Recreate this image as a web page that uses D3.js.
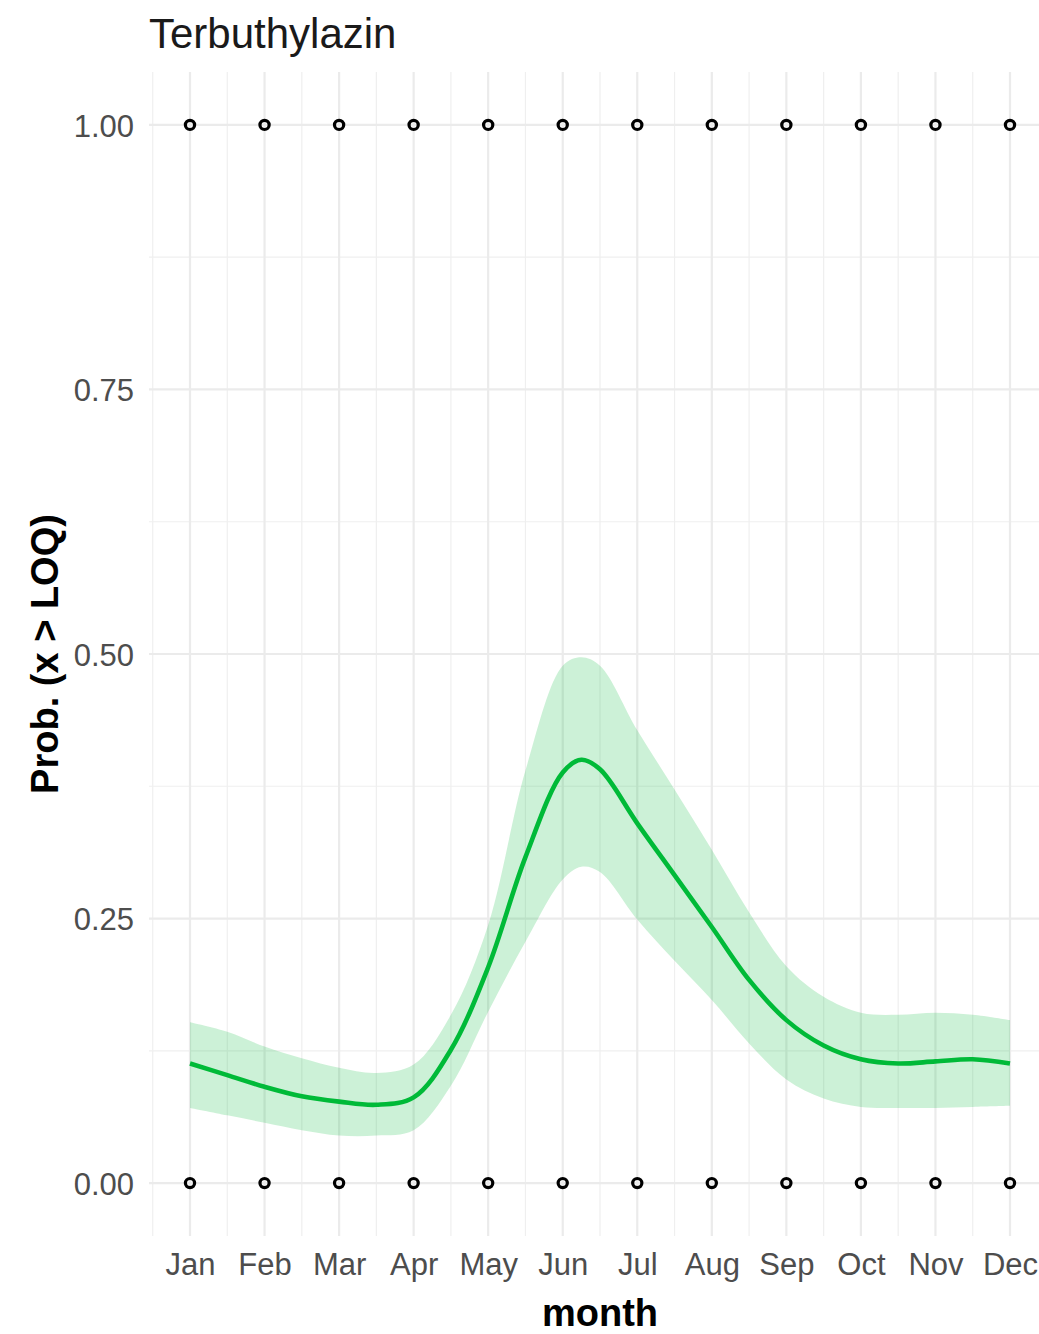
<!DOCTYPE html>
<html>
<head>
<meta charset="utf-8">
<script src="https://cdn.jsdelivr.net/npm/d3@7"></script>
<style>
  html, body { margin: 0; padding: 0; background: #ffffff; }
  svg { display: block; font-family: "Liberation Sans", Arial, Helvetica, sans-serif; }
</style>
</head>
<body>
<svg id="chart" width="1039" height="1334"></svg>
<script>
// Month labels and their positions on the numeric month axis
const months = ["Jan", "Feb", "Mar", "Apr", "May", "Jun", "Jul", "Aug", "Sep", "Oct", "Nov", "Dec"];
const monthNum = [1, 2, 3, 4, 5, 6, 7, 8, 9, 10, 11, 12];

// Smoothed probability of detection (x > LOQ) with its confidence band
const smoothX = [1, 1.5, 2, 2.5, 3, 3.5, 4, 4.5, 5, 5.5, 6, 6.25, 6.5, 7, 7.5, 8, 8.5, 9, 9.5, 10, 10.5, 11, 11.5, 12];
const smoothFit = [0.113, 0.102, 0.091, 0.082, 0.077, 0.074, 0.081, 0.126, 0.204, 0.308, 0.388, 0.400, 0.391, 0.340, 0.291, 0.242, 0.192, 0.154, 0.130, 0.117, 0.113, 0.115, 0.117, 0.113];
const smoothLower = [0.071, 0.064, 0.057, 0.050, 0.045, 0.045, 0.050, 0.092, 0.162, 0.228, 0.287, 0.299, 0.294, 0.249, 0.210, 0.173, 0.132, 0.098, 0.080, 0.072, 0.071, 0.071, 0.072, 0.073];
const smoothUpper = [0.152, 0.143, 0.129, 0.118, 0.109, 0.104, 0.112, 0.159, 0.244, 0.390, 0.489, 0.497, 0.489, 0.428, 0.372, 0.315, 0.256, 0.205, 0.176, 0.161, 0.159, 0.161, 0.159, 0.154];

// Observed detections (1) and non-detections (0) per month
const obsMonth = [1, 2, 3, 4, 5, 6, 7, 8, 9, 10, 11, 12, 1, 2, 3, 4, 5, 6, 7, 8, 9, 10, 11, 12];
const obsValue = [1, 1, 1, 1, 1, 1, 1, 1, 1, 1, 1, 1, 0, 0, 0, 0, 0, 0, 0, 0, 0, 0, 0, 0];

// Axis breaks
const yBreaks = [0, 0.25, 0.5, 0.75, 1];
const yMinor = [0.125, 0.375, 0.625, 0.875];
const xMinor = [0.5, 1.5, 2.5, 3.5, 4.5, 5.5, 6.5, 7.5, 8.5, 9.5, 10.5, 11.5, 12.5];

const title = "Terbuthylazin";
const xTitle = "month";
const yTitle = "Prob. (x > LOQ)";

const svg = d3.select("#chart");
const panel = { left: 149, right: 1051, top: 72, bottom: 1236 };

const x = d3.scaleLinear().domain([0.45, 12.55]).range([panel.left, panel.right]);
const y = d3.scaleLinear().domain([-0.05, 1.05]).range([panel.bottom, panel.top]);

const green = "#00BA38";

// Grid lines (minor first, then major)
const grid = svg.append("g");
grid.selectAll(".ymin").data(yMinor).join("line")
  .attr("x1", panel.left).attr("x2", panel.right)
  .attr("y1", d => y(d)).attr("y2", d => y(d))
  .attr("stroke", "#efefef").attr("stroke-width", 1.2);
grid.selectAll(".xmin").data(xMinor).join("line")
  .attr("y1", panel.top).attr("y2", panel.bottom)
  .attr("x1", d => x(d)).attr("x2", d => x(d))
  .attr("stroke", "#efefef").attr("stroke-width", 1.2);
grid.selectAll(".ymaj").data(yBreaks).join("line")
  .attr("x1", panel.left).attr("x2", panel.right)
  .attr("y1", d => y(d)).attr("y2", d => y(d))
  .attr("stroke", "#ebebeb").attr("stroke-width", 2.2);
grid.selectAll(".xmaj").data(monthNum).join("line")
  .attr("y1", panel.top).attr("y2", panel.bottom)
  .attr("x1", d => x(d)).attr("x2", d => x(d))
  .attr("stroke", "#ebebeb").attr("stroke-width", 2.2);

// Confidence ribbon and fitted curve
const band = smoothX.map((m, i) => ({ m, fit: smoothFit[i], lo: smoothLower[i], hi: smoothUpper[i] }));
const curve = d3.curveCatmullRom.alpha(0.5);

svg.append("path")
  .datum(band)
  .attr("d", d3.area().x(d => x(d.m)).y0(d => y(d.lo)).y1(d => y(d.hi)).curve(curve))
  .attr("fill", green).attr("fill-opacity", 0.2);

svg.append("path")
  .datum(band)
  .attr("d", d3.line().x(d => x(d.m)).y(d => y(d.fit)).curve(curve))
  .attr("fill", "none").attr("stroke", green).attr("stroke-width", 4.6)
  .attr("stroke-linejoin", "round").attr("stroke-linecap", "butt");

// Observation points
svg.append("g").selectAll("circle")
  .data(obsMonth.map((m, i) => ({ m, v: obsValue[i] })))
  .join("circle")
  .attr("cx", d => x(d.m)).attr("cy", d => y(d.v))
  .attr("r", 4.6)
  .attr("fill", "none").attr("stroke", "#000000").attr("stroke-width", 3.2);

// Axes (labels only, no axis lines or ticks)
const yAxis = svg.append("g")
  .attr("transform", `translate(${panel.left - 15},0)`)
  .call(d3.axisLeft(y).tickValues(yBreaks).tickFormat(d3.format(".2f")).tickSize(0).tickPadding(0));
yAxis.select(".domain").remove();
yAxis.selectAll("text")
  .attr("fill", "#4d4d4d").attr("font-size", 31)
  .attr("font-family", "'Liberation Sans', Arial, sans-serif")
  .attr("dy", "0.36em");

const xAxis = svg.append("g")
  .attr("transform", `translate(0,${panel.bottom + 16})`)
  .call(d3.axisBottom(x).tickValues(monthNum).tickFormat((d, i) => months[i]).tickSize(0).tickPadding(0));
xAxis.select(".domain").remove();
xAxis.selectAll("text")
  .attr("fill", "#4d4d4d").attr("font-size", 31)
  .attr("font-family", "'Liberation Sans', Arial, sans-serif")
  .attr("dy", "0.73em");

// Titles
svg.append("text")
  .attr("x", panel.left).attr("y", 48)
  .attr("font-size", 42).attr("fill", "#1a1a1a")
  .text(title);

svg.append("text")
  .attr("x", (panel.left + panel.right) / 2).attr("y", 1326)
  .attr("text-anchor", "middle")
  .attr("font-size", 38).attr("font-weight", "bold").attr("fill", "#000000")
  .text(xTitle);

svg.append("text")
  .attr("transform", `translate(58,${(panel.top + panel.bottom) / 2}) rotate(-90)`)
  .attr("text-anchor", "middle")
  .attr("font-size", 38).attr("font-weight", "bold").attr("fill", "#000000")
  .text(yTitle);
</script>
</body>
</html>
